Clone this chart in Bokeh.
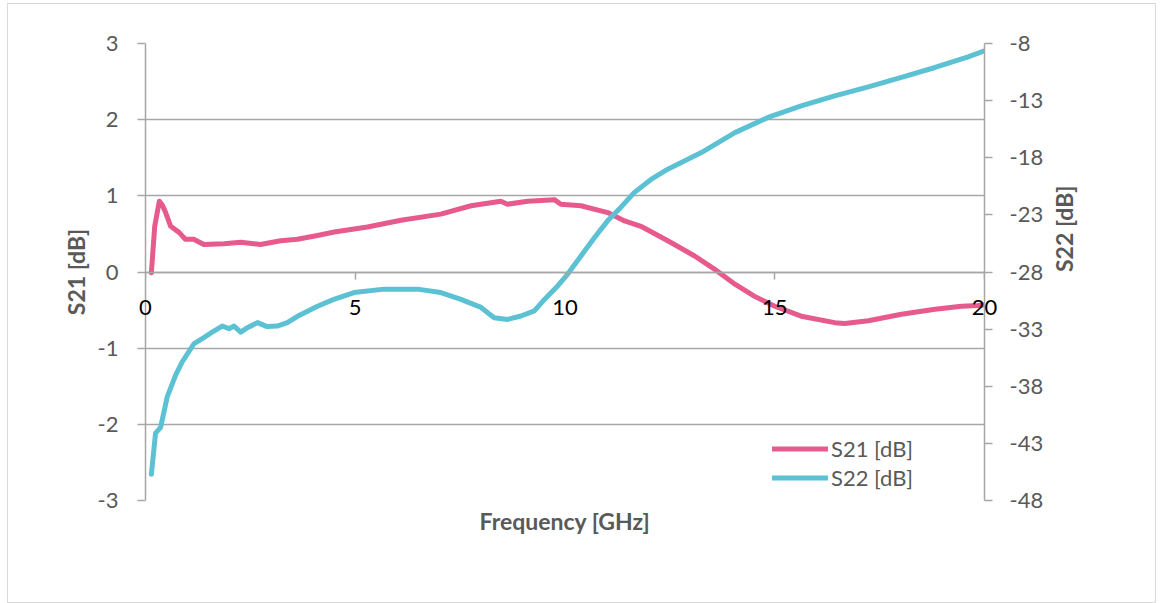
import math
from bokeh.plotting import figure
from bokeh.models import (Range1d, LinearAxis, FixedTicker, Legend, LegendItem, Label)
from bokeh.embed import file_html
from bokeh.resources import INLINE

# S21 [dB] (left axis) vs frequency [GHz]
s21_f = [0.14, 0.22, 0.33, 0.40, 0.48, 0.60, 0.80, 0.95, 1.15, 1.39, 1.87, 2.27,
         2.74, 3.22, 3.62, 4.10, 4.50, 5.29, 6.09, 7.04, 7.76,
         8.47, 8.63, 9.11, 9.75, 9.90, 10.38, 11.02, 11.42, 11.81, 12.45, 13.09,
         13.57, 14.05, 14.52, 15.00, 15.63, 16.43, 16.67, 17.23, 18.02, 18.82,
         19.45, 19.85, 20.00]
s21_db = [-0.01, 0.60, 0.93, 0.88, 0.78, 0.60, 0.52, 0.43, 0.43, 0.36, 0.37, 0.39,
          0.36, 0.41, 0.43, 0.48, 0.525, 0.59, 0.68, 0.76, 0.87,
          0.93, 0.89, 0.93, 0.95, 0.89, 0.87, 0.78, 0.67, 0.60, 0.41, 0.21,
          0.035, -0.16, -0.32, -0.45, -0.58, -0.665, -0.675, -0.64, -0.555, -0.49,
          -0.45, -0.44, -0.43]

# S22 [dB] (right axis) vs frequency [GHz]
s22_f = [0.14, 0.24, 0.36, 0.52, 0.72, 0.87, 1.15, 1.39, 1.59, 1.83, 1.99, 2.11,
         2.27, 2.43, 2.67, 2.90, 3.14, 3.38, 3.66, 4.10, 4.49, 4.97, 5.69, 6.48,
         7.04, 7.52, 8.00, 8.31, 8.63, 8.95, 9.27, 9.51, 9.83, 10.06, 10.38, 10.70,
         11.02, 11.34, 11.65, 12.05, 12.45, 13.25, 14.05, 14.84, 15.63, 16.43,
         17.23, 18.02, 18.82, 19.61, 20.00]
s22_db = [-45.7, -42.1, -41.6, -38.9, -37.0, -35.9, -34.3, -33.75, -33.26, -32.73, -32.96, -32.73,
          -33.26, -32.87, -32.43, -32.78, -32.73, -32.43, -31.8, -31.0, -30.4, -29.8, -29.5, -29.5,
          -29.8, -30.4, -31.1, -32.0, -32.15, -31.85, -31.4, -30.4, -29.2, -28.2, -26.6, -25.0,
          -23.5, -22.3, -21.05, -19.9, -19.0, -17.55, -15.8, -14.47, -13.46, -12.58,
          -11.79, -10.97, -10.1, -9.17, -8.64]

x_ticks = [0, 5, 10, 15, 20]
left_ticks = [-3, -2, -1, 0, 1, 2, 3]
right_ticks = [-48, -43, -38, -33, -28, -23, -18, -13, -8]

C21 = "#e75a8c"
C22 = "#5bc1d3"
GRID = "#a6a6a6"
TXT = "#595959"
FONT = "Lato"

p = figure(width=1149, height=600, output_backend="svg", toolbar_location=None,
           x_range=Range1d(0, 20), y_range=Range1d(-3, 3),
           min_border_left=137, min_border_top=39, min_border_right=173,
           min_border_bottom=104, x_axis_location=None, y_axis_location=None)
p.outline_line_color = None
p.background_fill_color = "white"
p.border_fill_color = "white"
p.styles = {"border": "1.5px solid #d9d9d9", "box-sizing": "border-box",
            "margin-left": "7px", "margin-top": "3px"}

p.extra_y_ranges = {"s22": Range1d(-48, -8)}

# grid
p.xgrid.visible = False
p.ygrid.ticker = FixedTicker(ticks=left_ticks)
p.ygrid.grid_line_color = GRID
p.ygrid.grid_line_width = 1.5

# left axis
la = LinearAxis(ticker=FixedTicker(ticks=left_ticks), axis_label="S21 [dB]")
la.major_label_overrides = {t: str(t) for t in left_ticks}
# right axis
ra = LinearAxis(y_range_name="s22", ticker=FixedTicker(ticks=right_ticks))
ra.major_label_overrides = {t: str(t) for t in right_ticks}
for ax in (la, ra):
    ax.axis_line_color = GRID
    ax.axis_line_width = 1.5
    ax.major_tick_line_color = GRID
    ax.major_tick_line_width = 1.5
    ax.major_tick_in = 0
    ax.major_tick_out = 8
    ax.minor_tick_line_color = None
    ax.major_label_text_font = FONT
    ax.major_label_text_font_size = "22px"
    ax.major_label_text_color = TXT
    ax.axis_label_text_font = FONT
    ax.axis_label_text_font_size = "23px"
    ax.axis_label_text_font_style = "bold"
    ax.axis_label_text_color = TXT
la.major_label_standoff = 19
la.axis_label_standoff = 5
ra.major_label_standoff = 17

has_orient = "axis_label_orientation" in LinearAxis.properties()
if has_orient:
    ra.axis_label = "S22 [dB]"
    ra.axis_label_orientation = math.pi / 2
    ra.axis_label_standoff = 18
p.add_layout(la, "left")
p.add_layout(ra, "right")

if not has_orient:
    p.add_layout(Label(x=20, y=0, x_offset=86, text="S22 [dB]",
                       angle=math.pi / 2, text_align="center", text_baseline="middle",
                       text_font=FONT, text_font_size="23px", text_font_style="bold",
                       text_color=TXT))

# x axis crossing at y = 0 (line and ticks only)
xa = LinearAxis(ticker=FixedTicker(ticks=x_ticks), fixed_location=0)
xa.axis_line_color = GRID
xa.axis_line_width = 1.5
xa.major_tick_line_color = GRID
xa.major_tick_line_width = 1.5
xa.major_tick_in = 0
xa.major_tick_out = 7
xa.minor_tick_line_color = None
xa.major_label_overrides = {t: "" for t in x_ticks}
p.add_layout(xa, "below")

# x tick labels along the y = 0 line; the end ones sit in side panels so the
# frame does not clip them
for t in x_ticks:
    lab = Label(x=t, y=0, y_offset=-35, text=str(t), text_align="center",
                text_baseline="middle", text_font=FONT, text_font_size="22px",
                text_color="black")
    if t == x_ticks[0]:
        p.add_layout(lab, "left")
    elif t == x_ticks[-1]:
        p.add_layout(lab, "right")
    else:
        p.add_layout(lab, "center")

# x axis title only
xt = LinearAxis(ticker=FixedTicker(ticks=[]), axis_label="Frequency [GHz]")
xt.axis_line_color = None
xt.major_tick_line_color = None
xt.minor_tick_line_color = None
xt.major_tick_out = 0
xt.major_label_standoff = 0
xt.axis_label_standoff = 6
xt.axis_label_text_font = FONT
xt.axis_label_text_font_size = "23px"
xt.axis_label_text_font_style = "bold"
xt.axis_label_text_color = TXT
p.add_layout(xt, "below")

r21 = p.line(s21_f, s21_db, line_color=C21, line_width=5, line_join="round", line_cap="round")
r22 = p.line(s22_f, s22_db, line_color=C22, line_width=5, line_join="round", line_cap="round",
             y_range_name="s22")

leg = Legend(items=[LegendItem(label="S21 [dB]", renderers=[r21]),
                    LegendItem(label="S22 [dB]", renderers=[r22])],
             location=(627, 8), orientation="vertical")
leg.background_fill_alpha = 0
leg.border_line_color = None
leg.padding = 0
leg.margin = 0
leg.spacing = 0
leg.glyph_width = 56
leg.glyph_height = 29
leg.label_height = 29
leg.label_standoff = 3
leg.label_text_font = FONT
leg.label_text_font_size = "22px"
leg.label_text_color = TXT
p.add_layout(leg, "center")

open("out.html", "w").write(file_html(p, INLINE))
